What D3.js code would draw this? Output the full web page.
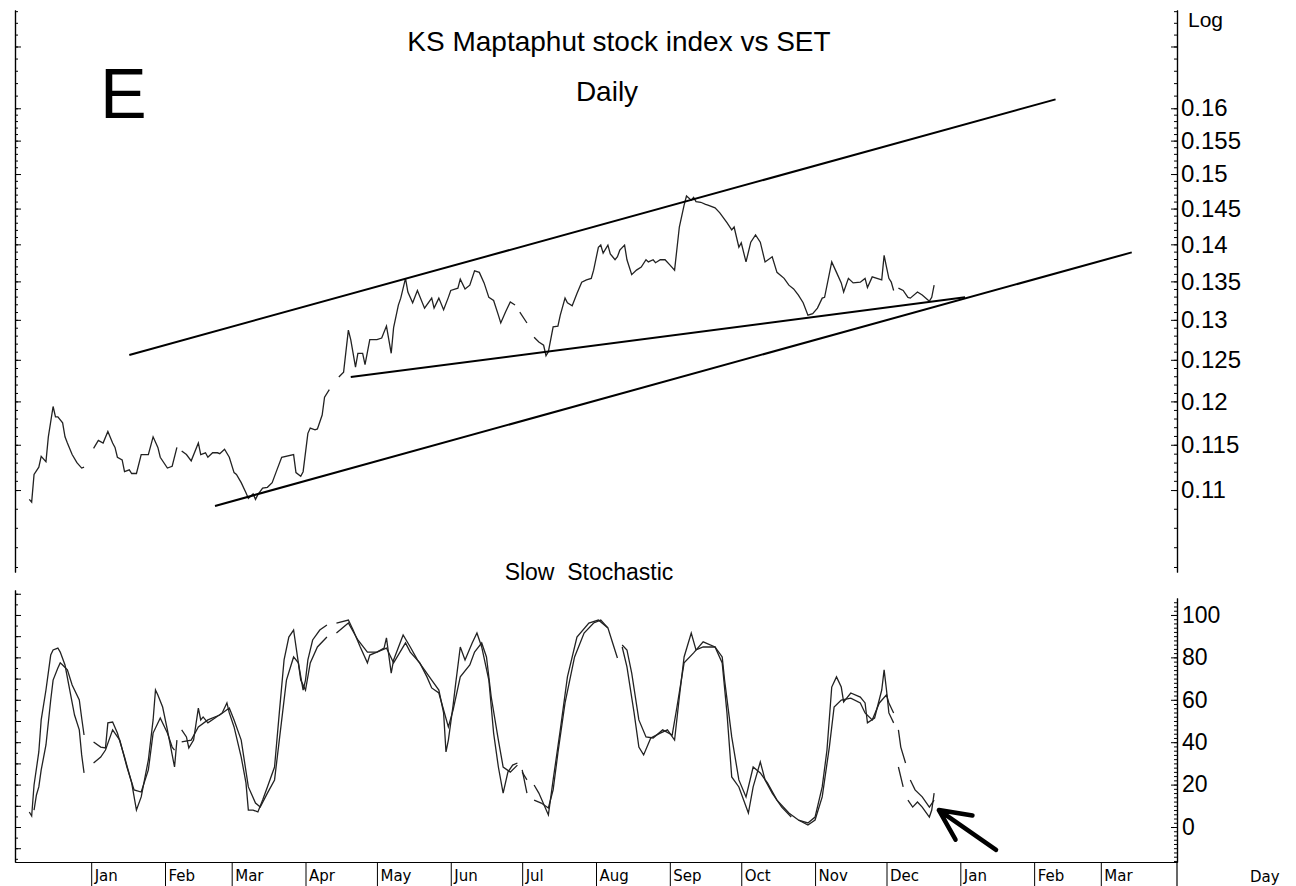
<!DOCTYPE html>
<html>
<head>
<meta charset="utf-8">
<script src="https://cdn.jsdelivr.net/npm/d3@7"></script>
<style>
  body { margin: 0; background: #fff; }
  svg { display: block; font-family: "Liberation Sans", Arial, sans-serif; }
</style>
</head>
<body>
<svg id="chart" width="1296" height="886"></svg>
<script>
// day numbers count from 1 Dec 2005, null = break in the line
const price = [
  [5,.1090],[6,.1087],[7,.1117],[9,.1125],[10,.1137],[12,.1131],[13,.1159],[15,.1194],[16,.1182],[17,.1182],
  [19,.1175],[20,.1159],[21,.1152],[23,.1139],[25,.1130],[27,.1124],[28,.1125],
  [30,null],
  [32,.1146],[34,.1155],[36,.1152],[38,.1165],[40,.1152],[41,.1147],[42,.1136],[44,.1133],[45,.1120],[47,.1122],
  [48,.1118],[50,.1118],[52,.1139],[55,.1139],[57,.1159],[59,.1147],[60,.1136],[63,.1124],[65,.1126],[67,.1147],
  [68,null],
  [69,.1143],[71,.1139],[73,.1132],[76,.1152],[77,.1139],[79,.1141],[80,.1136],[82,.1141],[84,.1141],[85,.1140],
  [87,.1145],[89,.1136],[91,.1119],[92,.1117],[94,.1108],[96,.1097],[97,.1091],[99,.1096],[100,.1090],[101,.1095],
  [103,.1102],[105,.1103],[107,.1108],[109,.1122],[111,.1136],[116,.1139],[117,.1119],[119,.1115],[120,.1120],
  [122,.1163],[123,.1169],[125,.1167],[126,.1168],[128,.1184],[129,.1205],[131,.1214],
  [133,null],
  [135,.1229],[137,.1235],[139,.1287],[140,.1275],[142,.1241],[143,.1258],[145,.1258],[146,.1244],[148,.1275],
  [151,.1275],[153,.1277],[155,.1292],[157,.1258],[158,.1290],[160,.1319],[161,.1328],[163,.1354],[164,.1336],
  [166,.1322],[168,.1338],[171,.1315],[174,.1328],[175,.1315],[177,.1328],[179,.1313],[181,.1329],[182,.1338],
  [185,.1341],[186,.1353],[188,.1340],[190,.1345],[192,.1364],[194,.1362],[196,.1348],[198,.1329],[200,.1325],
  [202,.1306],[203,.1296],[205,.1310],[207,.1323],[209,.1319],
  [210,null],
  [211,.1310],[214,.1296],
  [215,null],
  [217,.1278],[219,.1272],[221,.1268],[222,.1255],[223,.1260],[225,.1291],[227,.1292],[228,.1306],[230,.1328],
  [231,.1322],[233,.1318],[235,.1334],[237,.1349],[239,.1352],[241,.1354],[242,.1365],[244,.1396],[245,.1399],
  [246,.1388],[248,.1399],[249,.1387],[251,.1379],[252,.1383],[253,.1392],[255,.1399],[256,.1379],[258,.1359],
  [260,.1365],[262,.1369],[264,.1379],[265,.1376],[267,.1379],[268,.1375],[270,.1379],[272,.1379],[274,.1372],
  [276,.1365],[278,.1424],[280,.1455],[281,.1468],[283,.1462],[284,.1466],[285,.1460],[287,.1459],[289,.1456],
  [290,.1455],[293,.1451],[295,.1444],[298,.1430],[300,.1420],[301,.1424],[303,.1396],[304,.1402],[306,.1376],
  [308,.1403],[310,.1413],[312,.1403],[314,.1376],[317,.1383],[319,.1362],[322,.1354],[324,.1345],[326,.1340],
  [328,.1332],[330,.1322],[332,.1306],[334,.1308],[336,.1315],[338,.1328],[339,.1329],[342,.1376],[344,.1362],
  [346,.1348],[347,.1336],[349,.1354],[351,.1348],[354,.1349],[356,.1354],[357,.1342],[359,.1356],[362,.1353],
  [363,.1352],[364,.1385],[365,.1369],[366,.1354],[367,.1349],[368,.1338],
  [369,null],
  [370,.1341],[372,.1338],[374,.1329],[375,.1328],[378,.1336],[380,.1332],[383,.1324],[384,.1329],[385,.1345]
];

const stochK = [
  [5,7.1],[6,5.2],[7,19.8],[9,35.4],[10,50.5],[12,64.6],[14,81.1],[15,83.5],[17,84.4],[18,82.5],[20,76.4],
  [22,64.6],[24,52.8],[26,45.8],[27,34.0],[28,25.5],
  [30,null],
  [32,40.1],[35,37.7],[37,37.3],[38,49.1],[40,49.5],[42,44.3],[45,33.0],[48,20.8],[50,8.0],[52,14.2],[55,31.6],
  [57,50.5],[58,64.6],[59,62.3],[61,56.6],[63,45.8],[66,28.3],[67,41.0],
  [68,null],
  [69,45.8],[71,42.5],[72,37.3],[74,41.0],[76,56.1],[77,50.5],[78,51.9],[80,49.1],[83,51.4],[86,53.8],[88,58.5],
  [89,53.8],[91,47.2],[94,33.0],[96,20.8],[97,8.0],[99,8.0],[101,7.1],[103,12.7],[105,18.9],[108,28.3],[110,53.8],
  [112,78.8],[114,89.6],[116,92.9],[118,77.4],[120,64.6],[121,69.3],[122,78.8],[124,88.2],[127,92.9],[130,95.3],
  [132,null],
  [134,96.2],[139,97.6],[141,92.9],[144,84.9],[147,77.4],[148,81.1],[151,82.5],[154,84.4],[155,89.2],[157,72.6],
  [158,78.8],[162,90.6],[165,84.9],[168,78.8],[174,69.3],[177,64.6],[179,53.8],[180,35.4],[181,41.0],[183,57.5],
  [184,67.0],[186,84.9],[188,78.8],[191,86.8],[193,91.5],[195,84.9],[198,69.3],[200,44.3],[202,28.3],[204,16.0],
  [206,25.9],[208,29.2],[210,30.2],
  [211,null],
  [212,26.9],[214,16.0],
  [215,null],
  [217,19.8],[219,16.0],[223,5.7],[225,22.2],[228,45.8],[231,70.8],[235,89.6],[240,96.2],[244,97.6],[248,93.9],
  [250,86.8],[252,79.7],
  [253,null],
  [254,84.9],[256,75.5],[259,53.8],[261,37.7],[263,34.0],[266,42.0],[270,44.3],[273,45.8],[276,41.0],[278,61.3],
  [280,80.2],[283,91.5],[285,83.5],[288,84.9],[293,84.9],[296,77.4],[298,53.8],[300,23.6],[303,18.9],[307,6.6],
  [309,18.9],[312,30.7],[314,22.2],[317,16.0],[321,9.4],[325,4.7],
  [326,null],
  [328,3.3],[332,1.9],[335,4.7],[338,18.9],[340,36.3],[342,66.0],[344,70.8],[346,66.0],[347,59.0],[350,63.2],
  [354,61.3],[356,58.5],[357,49.1],[360,51.4],[363,64.6],[364,74.1],[365,64.6],[366,53.8],[368,49.1],
  [369,null],
  [370,28.3],[372,18.9],
  [373,null],
  [374,12.7],[376,9.4],[378,11.8],[380,9.4],[383,4.7],[384,8.0],[385,16.0]
];

const stochD = [
  [7,8.0],[8,15.1],[9,18.9],[10,26.9],[12,38.7],[14,59.9],[15,69.3],[17,75.0],[18,77.4],[19,76.4],[21,74.1],
  [23,67.0],[26,59.9],[27,51.4],[28,43.4],
  [30,null],
  [32,30.2],[35,33.0],[37,36.3],[40,45.8],[43,41.0],[46,28.3],[49,17.5],[52,16.5],[55,26.9],[57,44.3],[60,51.4],
  [63,44.3],[65,37.7],[66,36.3],
  [68,null],
  [69,40.1],[73,41.0],[76,47.2],[80,50.5],[85,52.8],[89,56.1],[91,50.5],[94,41.0],[97,18.9],[100,11.3],[102,9.4],
  [105,16.0],[108,22.2],[110,41.0],[113,69.3],[116,80.2],[118,77.4],[119,69.3],[121,64.6],[123,77.4],[126,84.9],
  [130,89.6],
  [132,null],
  [134,91.5],[139,96.2],[143,88.2],[147,82.5],[151,82.5],[155,84.4],[158,77.4],[163,86.8],[165,82.5],[169,77.4],
  [172,70.8],[174,65.6],[177,63.2],[181,47.2],[183,55.2],[186,70.8],[190,76.4],[192,82.5],[195,86.8],[197,80.2],
  [199,61.3],[202,41.0],[204,28.3],[207,25.9],[210,29.2],
  [211,null],
  [212,25.9],[214,22.2],
  [215,null],
  [217,12.7],[220,11.3],[223,9.0],[225,17.5],[227,34.9],[230,58.5],[234,80.2],[238,91.5],[242,96.2],[245,97.6],
  [248,93.9],
  [251,null],
  [254,85.8],[256,83.5],[258,72.6],[261,50.5],[264,42.5],[267,42.0],[271,45.8],[275,43.4],[277,56.6],[280,77.4],
  [284,82.1],[288,87.3],[293,84.9],[296,80.2],[297,69.3],[300,42.5],[303,22.2],[306,14.2],[309,28.3],[312,25.5],
  [315,20.8],[319,12.7],[324,6.6],[328,3.3],[332,0.9],[335,3.3],[338,14.2],[341,37.7],[343,56.6],[346,59.9],
  [350,60.8],[354,58.5],[356,53.8],[359,50.5],[362,58.5],[365,62.3],[366,58.5],[368,53.8],
  [369,null],
  [370,45.8],[371,37.7],[373,30.2],
  [374,null],
  [375,22.2],[377,17.5],[380,14.2],[383,9.4],[385,12.7]
];

// hand drawn trend lines and arrow, [day, value]
const trendUpper = [[47, 0.1256], [436, 0.1614]];
const trendLower = [[83, 0.1083], [468, 0.1389]];
const trendInner = [[140, 0.1229], [398, 0.1329]];
const arrow = [[387, 8.0], [411, -10.8]];

const priceLabels = [0.11, 0.115, 0.12, 0.125, 0.13, 0.135, 0.14, 0.145, 0.15, 0.155, 0.16];
const stochLabels = [0, 20, 40, 60, 80, 100];

const svg = d3.select('#chart');
const day0 = new Date(2005, 11, 1);
const toDate = d => d3.timeDay.offset(day0, d);

const left = 15, right = 1177;

const xScale = d3.scaleTime()
  .domain([new Date(2005, 10, 30), new Date(2007, 3, 2)])
  .range([left, right]);

const yPrice = d3.scaleLog()
  .domain([0.1015, 0.1762])
  .range([572, 10]);

const yStoch = d3.scaleLinear()
  .domain([-16.5, 108])
  .range([862, 598]);

// minor tick positions (MetaStock style spacing)
const priceMinor = d3.range(0.102, 0.1095, 0.002)
  .concat(d3.range(0.110, 0.1605, 0.001))
  .concat(d3.range(0.162, 0.1765, 0.002));
const stochMinor = d3.range(-16, 108, 2);

function styleAxis(g) {
  g.selectAll('.domain').attr('stroke', '#000').attr('stroke-width', 1.2);
  g.selectAll('.tick line').attr('stroke', '#000');
}

// upper panel axes
svg.append('g')
  .attr('transform', `translate(${right},0)`)
  .call(d3.axisRight(yPrice).tickValues(priceMinor).tickSize(-3).tickSizeOuter(0).tickFormat(''))
  .call(styleAxis);
svg.append('g')
  .attr('transform', `translate(${right},0)`)
  .call(d3.axisRight(yPrice).tickValues(priceLabels.concat([0.17])).tickSize(-6).tickSizeOuter(0)
    .tickPadding(4).tickFormat(d => d === 0.17 ? '' : String(d)))
  .call(styleAxis)
  .call(g => g.selectAll('text').attr('font-size', 24).attr('font-family', '"Liberation Sans", Arial, sans-serif').attr('fill', '#000'));

svg.append('g')
  .attr('transform', `translate(${left},0)`)
  .call(d3.axisLeft(yPrice).tickValues(priceMinor).tickSize(-3).tickSizeOuter(0).tickFormat(''))
  .call(styleAxis);
svg.append('g')
  .attr('transform', `translate(${left},0)`)
  .call(d3.axisLeft(yPrice).tickValues(priceLabels.concat([0.17])).tickSize(-6).tickSizeOuter(0).tickFormat(''))
  .call(styleAxis);

// lower panel axes
svg.append('g')
  .attr('transform', `translate(${right},0)`)
  .call(d3.axisRight(yStoch).tickValues(stochMinor).tickSize(-3).tickSizeOuter(0).tickFormat(''))
  .call(styleAxis);
svg.append('g')
  .attr('transform', `translate(${right},0)`)
  .call(d3.axisRight(yStoch).tickValues(stochLabels).tickSize(-6).tickSizeOuter(0).tickPadding(5))
  .call(styleAxis)
  .call(g => g.selectAll('text').attr('font-size', 23).attr('font-family', '"Liberation Sans", Arial, sans-serif').attr('fill', '#000'));

const yStochLeft = yStoch.copy().range([862, 590]).domain([-16.5, yStoch.invert(590)]);
svg.append('g')
  .attr('transform', `translate(${left},0)`)
  .call(d3.axisLeft(yStochLeft).tickValues(d3.range(-15, 112, 5)).tickSize(-3).tickSizeOuter(0).tickFormat(''))
  .call(styleAxis);
svg.append('g')
  .attr('transform', `translate(${left},0)`)
  .call(d3.axisLeft(yStochLeft).tickValues(d3.range(-10, 112, 10)).tickSize(-6).tickSizeOuter(0).tickFormat(''))
  .call(styleAxis);

// divider running down through the date strip
svg.append('line')
  .attr('x1', right).attr('x2', right)
  .attr('y1', yStoch.range()[0]).attr('y2', 886)
  .attr('stroke', '#000').attr('stroke-width', 1.2);

// date axis
const months = d3.timeMonth.range(new Date(2006, 0, 1), new Date(2007, 3, 1));
svg.append('g')
  .attr('transform', `translate(0,${yStoch.range()[0]})`)
  .call(d3.axisBottom(xScale).tickValues(months).tickSize(24).tickSizeOuter(0).tickFormat(d3.timeFormat('%b')))
  .call(styleAxis)
  .call(g => g.selectAll('text')
    .attr('font-size', 15)
    .attr('font-family', '"DejaVu Sans", Verdana, sans-serif')
    .attr('fill', '#000')
    .attr('text-anchor', 'start')
    .attr('x', 3)
    .attr('y', 8)
    .attr('dy', '0.71em'));

// series
const priceLine = d3.line()
  .defined(d => d[1] != null)
  .x(d => xScale(toDate(d[0])))
  .y(d => yPrice(d[1]));

const stochLine = d3.line()
  .defined(d => d[1] != null)
  .x(d => xScale(toDate(d[0])))
  .y(d => yStoch(d[1]));

svg.append('path')
  .datum(price)
  .attr('d', priceLine)
  .attr('fill', 'none')
  .attr('stroke', '#222')
  .attr('stroke-width', 1.3);

[trendUpper, trendLower, trendInner].forEach(t => {
  svg.append('path')
    .datum(t)
    .attr('d', priceLine)
    .attr('fill', 'none')
    .attr('stroke', '#000')
    .attr('stroke-width', 2);
});

[stochD, stochK].forEach(s => {
  svg.append('path')
    .datum(s)
    .attr('d', stochLine)
    .attr('fill', 'none')
    .attr('stroke', '#222')
    .attr('stroke-width', 1.3);
});

// arrow pointing at the last stochastic reading
const tip = [xScale(toDate(arrow[0][0])), yStoch(arrow[0][1])];
const tail = [xScale(toDate(arrow[1][0])), yStoch(arrow[1][1])];
const ang = Math.atan2(tail[1] - tip[1], tail[0] - tip[0]);
const barb = 34, spread = 0.45;
svg.append('path')
  .attr('d', `M${tail[0]},${tail[1]}L${tip[0]},${tip[1]}` +
    `M${tip[0] + barb * Math.cos(ang - spread)},${tip[1] + barb * Math.sin(ang - spread)}L${tip[0]},${tip[1]}` +
    `L${tip[0] + barb * Math.cos(ang + spread)},${tip[1] + barb * Math.sin(ang + spread)}`)
  .attr('fill', 'none')
  .attr('stroke', '#000')
  .attr('stroke-width', 4.5)
  .attr('stroke-linecap', 'round')
  .attr('stroke-linejoin', 'round');

// texts
svg.append('text')
  .attr('x', 619).attr('y', 51)
  .attr('text-anchor', 'middle')
  .attr('font-size', 28)
  .text('KS Maptaphut stock index vs SET');

svg.append('text')
  .attr('x', 607).attr('y', 101)
  .attr('text-anchor', 'middle')
  .attr('font-size', 28)
  .text('Daily');

svg.append('text')
  .attr('x', 100).attr('y', 118)
  .attr('font-size', 70)
  .text('E');

svg.append('text')
  .attr('x', right + 11).attr('y', 27)
  .attr('font-size', 21)
  .text('Log');

svg.append('text')
  .attr('x', 589).attr('y', 580)
  .attr('text-anchor', 'middle')
  .attr('font-size', 23)
  .attr('xml:space', 'preserve')
  .style('white-space', 'pre')
  .text('Slow  Stochastic');

svg.append('text')
  .attr('x', 1250).attr('y', 882)
  .attr('font-size', 15)
  .attr('font-family', '"DejaVu Sans", Verdana, sans-serif')
  .text('Day');
</script>
</body>
</html>
